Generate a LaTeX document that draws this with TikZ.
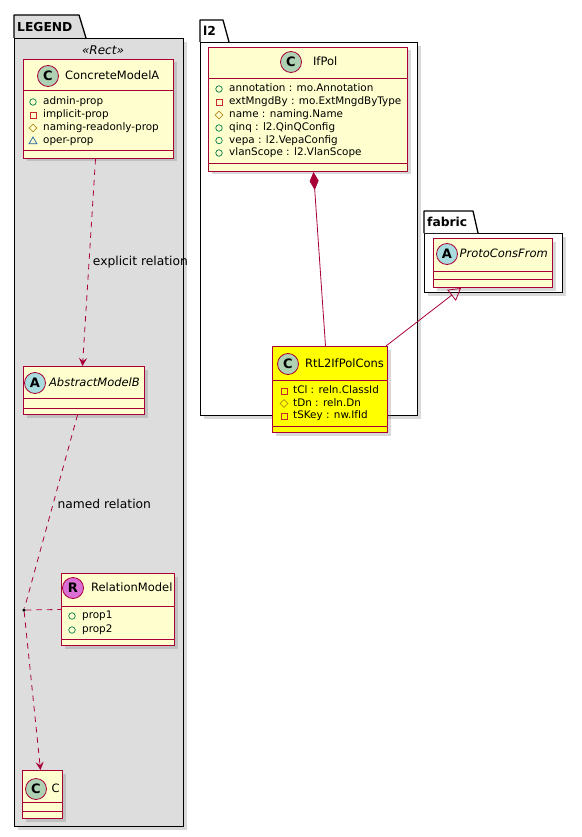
\documentclass[tikz,border=0pt]{standalone}
\usepackage{fontspec}
\setmainfont{DejaVu Sans}
\usetikzlibrary{positioning,arrows.meta,shapes.geometric,shadows}
\definecolor{uml}{HTML}{A80036}
\definecolor{umlfill}{HTML}{FEFECE}
\definecolor{legendfill}{HTML}{DDDDDD}
\definecolor{consfill}{HTML}{FFFF00}
\definecolor{spotc}{HTML}{ADD1B2}
\definecolor{spota}{HTML}{A9DCDF}
\definecolor{spotr}{HTML}{DA70D6}
\definecolor{pubcol}{HTML}{038048}
\definecolor{privcol}{HTML}{C82930}
\definecolor{protcol}{HTML}{B38D22}
\definecolor{pkgcol}{HTML}{1963A0}

\begin{document}
\begin{tikzpicture}[x=1pt,y=-1pt,
  shade/.style={drop shadow={shadow xshift=3pt,shadow yshift=-3pt,opacity=0.3}},
  pkgbody/.style={draw=black,line width=1.3pt,anchor=north west,inner sep=0pt,shade},
  pkgtab/.style={draw=black,line width=1.3pt,line join=round},
  pkgname/.style={anchor=west,inner sep=0pt,font=\bfseries\fontsize{12.3}{14}\selectfont},
  cls/.style={draw=uml,fill=umlfill,line width=1pt,anchor=north west,inner sep=0pt,shade},
  spot/.style={circle,draw=uml,line width=0.8pt,minimum size=21pt,inner sep=0pt,font=\bfseries\fontsize{13}{13}\selectfont},
  ttl/.style={inner sep=0pt,text height=9pt,text depth=2.5pt,font=\fontsize{11.5}{13}\selectfont},
  attr/.style={anchor=west,inner sep=0pt,text height=7.5pt,text depth=2pt,font=\fontsize{10.4}{12}\selectfont},
  sep/.style={draw=uml,line width=1pt},
  ipub/.style={circle,draw=pubcol,line width=0.7pt,minimum size=6.5pt,inner sep=0pt},
  ipriv/.style={rectangle,draw=privcol,line width=0.7pt,minimum size=6pt,inner sep=0pt},
  iprot/.style={diamond,draw=protcol,line width=0.7pt,minimum width=8pt,minimum height=8pt,inner sep=0pt},
  ipkg/.style={regular polygon,regular polygon sides=3,draw=pkgcol,line width=0.7pt,minimum size=9pt,inner sep=0pt},
  rel/.style={draw=uml,line width=0.8pt,dash pattern=on 5.5pt off 5pt},
  elabel/.style={inner sep=0pt,font=\fontsize{12.3}{14}\selectfont},
  >={Stealth[length=8pt,width=8pt,inset=3pt]}]
\useasboundingbox (0,0) rectangle (581,837);

% packages
\node[pkgbody,fill=legendfill,minimum width=169pt,minimum height=788pt] (LG) at (14,38) {};
\draw[pkgtab,fill=legendfill] (LG.north west) -- ++(0,-23) -- ++(65,0) -- ++(7,23);
\node[pkgname] (LGn) at (17,27) {LEGEND};
\node[font=\itshape\fontsize{12}{14}\selectfont,inner sep=0pt] (LGs) at (103,50) {«Rect»};
\node[pkgbody,fill=white,minimum width=217pt,minimum height=373pt] (L2) at (200,42) {};
\draw[pkgtab,fill=white] (L2.north west) -- ++(0,-22) -- ++(23,0) -- ++(6,22);
\node[pkgname] (L2n) at (203,31) {l2};
\node[pkgbody,fill=white,minimum width=138pt,minimum height=59pt] (FB) at (424,233) {};
\draw[pkgtab,fill=white] (FB.north west) -- ++(0,-22) -- ++(49,0) -- ++(5,22);
\node[pkgname] (FBn) at (427,222) {fabric};

% ConcreteModelA
\node[cls,minimum width=150pt,minimum height=99pt] (CA) at (23,59) {};
\node[spot,fill=spotc] (CAs) at (48,76) {C};
\node[ttl,anchor=west,right=6pt of CAs] (CAt) {ConcreteModelA};
\draw[sep] ([yshift=-32pt]CA.north west) -- ([yshift=-32pt]CA.north east);
\node[attr] (CA1) at (43,102) {admin-prop};           \node[ipub] (CA1i) at ([xshift=-10pt]CA1.west) {};
\node[attr] (CA2) at (43,115) {implicit-prop};        \node[ipriv] (CA2i) at ([xshift=-10pt]CA2.west) {};
\node[attr] (CA3) at (43,128) {naming-readonly-prop}; \node[iprot] (CA3i) at ([xshift=-10pt]CA3.west) {};
\node[attr] (CA4) at (43,141) {oper-prop};            \node[ipkg] (CA4i) at ([xshift=-10pt,yshift=-0.5pt]CA4.west) {};
\draw[sep] ([yshift=8pt]CA.south west) -- ([yshift=8pt]CA.south east);

% AbstractModelB
\node[cls,minimum width=121pt,minimum height=48pt] (AB) at (23,366) {};
\node[spot,fill=spota] (ABs) at (35,383) {A};
\node[ttl,anchor=west,right=3pt of ABs,font=\itshape\fontsize{11.5}{13}\selectfont] (ABt) {AbstractModelB};
\draw[sep] ([yshift=-32pt]AB.north west) -- ([yshift=-32pt]AB.north east);
\draw[sep] ([yshift=7pt]AB.south west) -- ([yshift=7pt]AB.south east);

% RelationModel
\node[cls,minimum width=113pt,minimum height=72pt] (RM) at (61,573) {};
\node[spot,fill=spotr] (RMs) at (73,588) {R};
\node[ttl,anchor=west,right=7pt of RMs] (RMt) {RelationModel};
\draw[sep] ([yshift=-33pt]RM.north west) -- ([yshift=-33pt]RM.north east);
\node[attr] (RM1) at (82,616) {prop1}; \node[ipub] (RM1i) at ([xshift=-10pt]RM1.west) {};
\node[attr] (RM2) at (82,630) {prop2}; \node[ipub] (RM2i) at ([xshift=-10pt]RM2.west) {};
\draw[sep] ([yshift=7pt]RM.south west) -- ([yshift=7pt]RM.south east);

% C
\node[cls,minimum width=40pt,minimum height=48pt] (C) at (22,770) {};
\node[spot,fill=spotc] (Cs) at (36,789) {C};
\node[ttl,anchor=west,right=4.5pt of Cs] (Ct) {C};
\draw[sep] ([yshift=-32pt]C.north west) -- ([yshift=-32pt]C.north east);
\draw[sep] ([yshift=8pt]C.south west) -- ([yshift=8pt]C.south east);

% IfPol
\node[cls,minimum width=199pt,minimum height=124pt] (IP) at (208,47) {};
\node[spot,fill=spotc] (IPs) at (291,62) {C};
\node[ttl,anchor=west,right=11pt of IPs] (IPt) {IfPol};
\draw[sep] ([yshift=-32pt]IP.north west) -- ([yshift=-32pt]IP.north east);
\node[attr] (IP1) at (229,89) {annotation : mo.Annotation};       \node[ipub] (IP1i) at ([xshift=-10pt]IP1.west) {};
\node[attr] (IP2) at (229,102) {extMngdBy : mo.ExtMngdByType};   \node[ipriv] (IP2i) at ([xshift=-10pt]IP2.west) {};
\node[attr] (IP3) at (229,115) {name : naming.Name};             \node[iprot] (IP3i) at ([xshift=-10pt]IP3.west) {};
\node[attr] (IP4) at (229,128) {qinq : l2.QinQConfig};           \node[ipub] (IP4i) at ([xshift=-10pt]IP4.west) {};
\node[attr] (IP5) at (229,140.5) {vepa : l2.VepaConfig};         \node[ipub] (IP5i) at ([xshift=-10pt]IP5.west) {};
\node[attr] (IP6) at (229,153) {vlanScope : l2.VlanScope};       \node[ipub] (IP6i) at ([xshift=-10pt]IP6.west) {};
\draw[sep] ([yshift=8pt]IP.south west) -- ([yshift=8pt]IP.south east);

% RtL2IfPolCons
\node[cls,fill=consfill,minimum width=115pt,minimum height=86pt] (RC) at (272,346) {};
\node[spot,fill=spotc] (RCs) at (288,364) {C};
\node[ttl,anchor=west,right=6pt of RCs] (RCt) {RtL2IfPolCons};
\draw[sep] ([yshift=-34pt]RC.north west) -- ([yshift=-34pt]RC.north east);
\node[attr] (RC1) at (293,391) {tCl : reln.ClassId};  \node[ipriv] (RC1i) at ([xshift=-9pt]RC1.west) {};
\node[attr] (RC2) at (293,403.5) {tDn : reln.Dn};     \node[iprot] (RC2i) at ([xshift=-9pt]RC2.west) {};
\node[attr] (RC3) at (293,416) {tSKey : nw.IfId};     \node[ipriv] (RC3i) at ([xshift=-9pt]RC3.west) {};
\draw[sep] ([yshift=7pt]RC.south west) -- ([yshift=7pt]RC.south east);

% ProtoConsFrom
\node[cls,minimum width=119pt,minimum height=49pt] (PF) at (433,238) {};
\node[spot,fill=spota] (PFs) at (447,254) {A};
\node[ttl,anchor=west,right=1.5pt of PFs,font=\itshape\fontsize{11.5}{13}\selectfont] (PFt) {ProtoConsFrom};
\draw[sep] ([yshift=-33pt]PF.north west) -- ([yshift=-33pt]PF.north east);
\draw[sep] ([yshift=9pt]PF.south west) -- ([yshift=9pt]PF.south east);

% relations
\node[circle,fill=black,inner sep=0pt,minimum size=3.5pt] (K) at (24,610) {};
\draw[rel,->] ([xshift=-3pt]CA.south) -- node[elabel,right=3.5pt] (E1) {explicit relation} ([xshift=-1.5pt]AB.north);
\draw[rel] ([xshift=-6.5pt]AB.south) -- node[elabel,pos=0.46,right=4pt] (E2) {named relation} (K);
\draw[rel] (K) -- (RM.west);
\draw[rel,->] (K) -- ([xshift=-2pt]C.north);
\draw[uml,line width=0.8pt,{Diamond[length=18pt,width=9pt]}-] ([xshift=5.5pt]IP.south) -- ([xshift=-4.5pt]RC.north);
\draw[uml,line width=0.8pt,-{Triangle[open,length=12pt,width=14pt]}] ([xshift=-2pt]RC.north east) -- ([xshift=-32pt]PF.south);
\end{tikzpicture}
\end{document}
